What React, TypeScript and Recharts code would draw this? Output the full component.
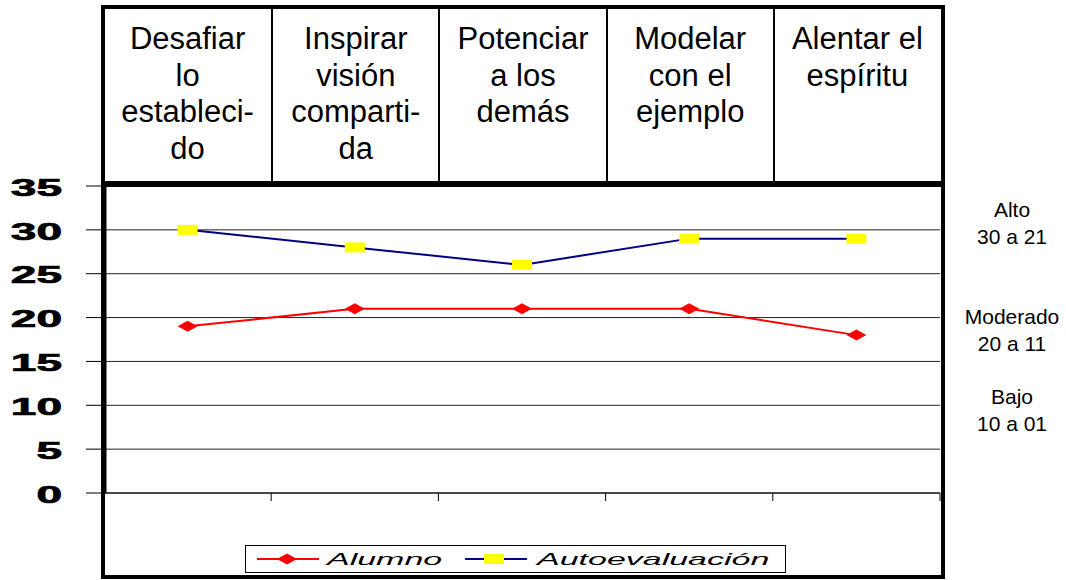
import React from "react";
import { LineChart, Line, XAxis, YAxis, CartesianGrid } from "recharts";

const categories = [
  "Desafiar lo establecido",
  "Inspirar visión compartida",
  "Potenciar a los demás",
  "Modelar con el ejemplo",
  "Alentar el espíritu",
];
// header cells, line by line as in the picture
const headerLines = [
  ["Desafiar", "lo", "estableci-", "do"],
  ["Inspirar", "visión", "comparti-", "da"],
  ["Potenciar", "a los", "demás"],
  ["Modelar", "con el", "ejemplo"],
  ["Alentar el", "espíritu"],
];
const alumno = [19, 21, 21, 21, 18];
const autoevaluacion = [30, 28, 26, 29, 29];
const yTicks = [0, 5, 10, 15, 20, 25, 30, 35];
const levelLabels = [
  ["Alto", "30 a 21"],
  ["Moderado", "20 a 11"],
  ["Bajo", "10 a 01"],
];

const data = categories.map((name, i) => ({
  name,
  Alumno: alumno[i],
  Autoevaluación: autoevaluacion[i],
}));

const W = 1066;
const H = 580;
const plotLeft = 104;
const plotRight = 940;
const colW = (plotRight - plotLeft) / categories.length;
const levelTops = [196, 303, 383];
const font = '"Liberation Sans", Arial, sans-serif';

const diamond = (cx: number, cy: number, key?: any) => (
  <path
    key={key}
    d={`M${cx - 10},${cy} L${cx},${cy - 5.5} L${cx + 10},${cy} L${cx},${cy + 5.5} Z`}
    fill="#FF0000"
  />
);
const square = (cx: number, cy: number, key?: any) => (
  <rect key={key} x={cx - 10} y={cy - 5} width={20} height={10} fill="#FFFF00" />
);

const YTick = (props: any) => {
  const { x, y, payload } = props;
  return (
    <text
      transform={`translate(${x},${y}) scale(2,1)`}
      textAnchor="end"
      dy="0.42em"
      fontFamily={font}
      fontWeight="bold"
      fontSize={23}
      fill="#000"
      stroke="#000"
      strokeWidth={0.7}
    >
      {payload.value}
    </text>
  );
};

// category boundaries: tick mark at the right edge of each band
const XTick = (props: any) => {
  const { x, y } = props;
  const bx = x + colW / 2;
  return <line x1={bx} x2={bx} y1={y} y2={y + 8} stroke="#000" />;
};

export default function App() {
  return (
    <div style={{ position: "absolute", left: 0, top: 0, width: W, height: H, background: "#fff", fontFamily: font }}>
      <LineChart
        width={W}
        height={H}
        data={data}
        margin={{ top: 186, right: W - plotRight, bottom: 77, left: 0 }}
        style={{ position: "absolute", left: 0, top: 0 }}
      >
        <CartesianGrid vertical={false} stroke="#222" />
        <XAxis
          dataKey="name"
          type="category"
          scale="band"
          height={10}
          interval={0}
          tickSize={0}
          tickMargin={0}
          tickLine={false}
          axisLine={{ stroke: "#000" }}
          tick={<XTick />}
        />
        <YAxis
          width={plotLeft}
          domain={[0, 35]}
          ticks={yTicks}
          interval={0}
          tickSize={18}
          tickMargin={24}
          axisLine={{ stroke: "#000", strokeWidth: 5 }}
          tickLine={{ stroke: "#000" }}
          tick={<YTick />}
        />
        <Line
          dataKey="Alumno"
          stroke="#FF0000"
          strokeWidth={2}
          dot={(p: any) => diamond(p.cx, p.cy, p.index)}
          activeDot={false}
          isAnimationActive={false}
        />
        <Line
          dataKey="Autoevaluación"
          stroke="#000080"
          strokeWidth={2}
          dot={(p: any) => square(p.cx, p.cy, p.index)}
          activeDot={false}
          isAnimationActive={false}
        />
      </LineChart>

      {/* outer frame */}
      <div
        style={{
          position: "absolute",
          left: 101,
          top: 5,
          width: 844,
          height: 574,
          border: "4px solid #000",
          boxSizing: "border-box",
        }}
      />
      {/* thick line under the header */}
      <div style={{ position: "absolute", left: 101, top: 181, width: 844, height: 6, background: "#000" }} />
      {headerLines.map((lines, i) => (
        <div
          key={i}
          style={{
            position: "absolute",
            left: plotLeft + i * colW,
            top: 9,
            width: colW,
            height: 172,
            boxSizing: "border-box",
            borderLeft: i > 0 ? "2px solid #000" : "none",
            paddingTop: 12,
            textAlign: "center",
            fontSize: 31,
            lineHeight: "36.5px",
            color: "#000",
          }}
        >
          {lines.map((t, j) => (
            <div key={j}>{t}</div>
          ))}
        </div>
      ))}

      {levelLabels.map((lines, i) => (
        <div
          key={i}
          style={{
            position: "absolute",
            left: 952,
            top: levelTops[i],
            width: 120,
            textAlign: "center",
            fontSize: 21,
            lineHeight: "27px",
            color: "#000",
          }}
        >
          {lines.map((t, j) => (
            <div key={j}>{t}</div>
          ))}
        </div>
      ))}

      <svg width={542} height={29} style={{ position: "absolute", left: 245, top: 545 }}>
        <rect x={0.5} y={0.5} width={540} height={27} fill="#fff" stroke="#000" />
        <line x1={12} x2={74} y1={14} y2={14} stroke="#FF0000" strokeWidth={2} />
        {diamond(42, 14)}
        <text transform="translate(82,20) scale(2,1)" fontFamily={font} fontStyle="italic" fontSize={17} fill="#000">
          Alumno
        </text>
        <line x1={220} x2={282} y1={14} y2={14} stroke="#000080" strokeWidth={2} />
        {square(249, 14)}
        <text transform="translate(292,20) scale(2,1)" fontFamily={font} fontStyle="italic" fontSize={17} fill="#000">
          Autoevaluación
        </text>
      </svg>
    </div>
  );
}
